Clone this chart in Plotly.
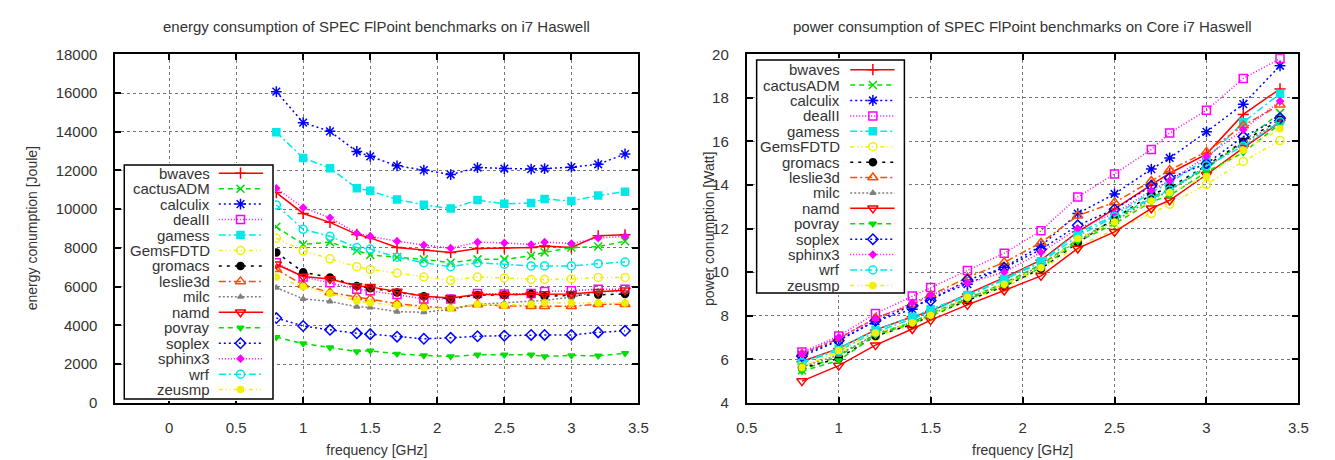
import plotly.graph_objects as go

W, H = 1335, 460

freq = [0.8, 1.0, 1.2, 1.4, 1.5, 1.7, 1.9, 2.1, 2.3, 2.5, 2.7, 2.8, 3.0, 3.2, 3.4]

series_names = ["bwaves", "cactusADM", "calculix", "dealII", "gamess", "GemsFDTD",
                "gromacs", "leslie3d", "milc", "namd", "povray", "soplex",
                "sphinx3", "wrf", "zeusmp"]

# ---- energy consumption [Joule] ----
e_bwaves    = [10860, 9780, 9320, 8700, 8520, 8020, 7900, 7770, 7970, 8000, 8020, 8100, 8020, 8630, 8680]
e_cactusADM = [9090, 8180, 8300, 7850, 7640, 7520, 7410, 7240, 7410, 7410, 7600, 7770, 8020, 8070, 8350]
e_calculix  = [16070, 14470, 14020, 12980, 12730, 12240, 12020, 11790, 12150, 12100, 12070, 12100, 12170, 12320, 12850]
e_dealII    = [7230, 6500, 6200, 5870, 5790, 5590, 5370, 5370, 5650, 5620, 5650, 5750, 5790, 5870, 5870]
e_gamess    = [13970, 12650, 12120, 11080, 10950, 10500, 10230, 10030, 10470, 10280, 10320, 10530, 10420, 10710, 10900]
e_GemsFDTD  = [8500, 7850, 7440, 7030, 6890, 6700, 6500, 6330, 6500, 6450, 6370, 6370, 6400, 6480, 6480]
e_gromacs   = [7770, 6750, 6480, 6040, 5920, 5700, 5510, 5370, 5570, 5570, 5620, 5510, 5540, 5590, 5620]
e_leslie3d  = [6900, 6090, 5700, 5460, 5370, 5120, 4990, 4880, 5080, 5010, 4990, 4990, 4990, 5090, 5090]
e_milc      = [5950, 5370, 5240, 4960, 4930, 4710, 4680, 4830, 5090, 5160, 5260, 5290, 5460, 5750, 5750]
e_namd      = [7160, 6530, 6400, 6040, 5990, 5750, 5510, 5420, 5590, 5590, 5590, 5620, 5620, 5740, 5820]
e_povray    = [3390, 3060, 2860, 2650, 2690, 2530, 2450, 2400, 2480, 2480, 2480, 2400, 2450, 2430, 2560]
e_soplex    = [4380, 3970, 3770, 3590, 3550, 3420, 3310, 3360, 3440, 3470, 3510, 3510, 3510, 3640, 3720]
e_sphinx3   = [11080, 10080, 9560, 8760, 8600, 8350, 8150, 7990, 8300, 8260, 8180, 8300, 8230, 8510, 8600]
e_wrf       = [10220, 8960, 8600, 8020, 7940, 7520, 7240, 7030, 7240, 7160, 7070, 7070, 7070, 7190, 7270]
e_zeusmp    = [6500, 5990, 5650, 5260, 5170, 5040, 4910, 4880, 5090, 5040, 5090, 5160, 5160, 5160, 5160]

# ---- power consumption [Watt] ----
p_bwaves    = [5.90, 6.50, 7.35, 7.95, 8.20, 9.00, 9.75, 10.55, 11.85, 12.90, 14.00, 14.54, 15.42, 17.24, 18.41]
p_cactusADM = [5.50, 6.15, 7.15, 7.70, 8.10, 8.80, 9.50, 10.35, 11.50, 12.40, 13.45, 13.80, 14.76, 16.00, 17.31]
p_calculix  = [6.20, 6.89, 7.75, 8.30, 8.83, 9.45, 10.23, 11.20, 12.69, 13.59, 14.73, 15.24, 16.44, 17.71, 19.47]
p_dealII    = [6.33, 7.07, 8.10, 8.90, 9.30, 10.08, 10.87, 11.90, 13.45, 14.51, 15.63, 16.39, 17.43, 18.89, 19.80]
p_gamess    = [5.85, 6.50, 7.35, 7.95, 8.30, 8.95, 9.70, 10.50, 11.80, 12.60, 13.66, 14.10, 15.20, 16.88, 18.19]
p_GemsFDTD  = [5.70, 6.30, 7.05, 7.60, 7.95, 8.70, 9.30, 10.10, 11.20, 11.95, 12.69, 13.12, 14.03, 15.08, 16.04]
p_gromacs   = [5.60, 6.04, 7.07, 7.60, 8.00, 8.70, 9.35, 10.16, 11.35, 12.45, 13.56, 13.88, 14.90, 16.00, 17.00]
p_leslie3d  = [6.25, 6.95, 7.90, 8.50, 8.95, 9.75, 10.45, 11.35, 12.59, 13.20, 14.18, 14.69, 15.52, 16.73, 17.68]
p_milc      = [5.65, 6.20, 7.15, 7.70, 8.05, 8.80, 9.45, 10.30, 11.45, 12.35, 13.33, 13.74, 14.83, 15.93, 16.90]
p_namd      = [5.00, 5.71, 6.65, 7.39, 7.80, 8.50, 9.16, 9.83, 11.09, 11.85, 12.93, 13.30, 14.47, 15.70, 16.88]
p_povray    = [5.45, 5.95, 7.10, 7.65, 8.00, 8.75, 9.40, 10.20, 11.40, 12.22, 13.23, 13.52, 14.60, 15.49, 16.80]
p_soplex    = [6.14, 6.85, 7.77, 8.46, 8.70, 9.64, 10.20, 11.04, 12.15, 12.88, 13.96, 14.32, 14.98, 16.22, 17.07]
p_sphinx3   = [6.25, 7.00, 7.85, 8.60, 8.95, 9.50, 10.00, 10.90, 12.00, 12.70, 13.74, 14.20, 15.31, 16.54, 17.85]
p_wrf       = [5.85, 6.40, 7.25, 7.85, 8.20, 8.90, 9.65, 10.45, 11.65, 12.55, 13.37, 13.77, 14.88, 15.78, 16.90]
p_zeusmp    = [5.62, 6.40, 7.21, 7.68, 8.02, 8.85, 9.45, 10.20, 11.55, 12.30, 13.26, 13.66, 14.39, 15.60, 16.58]

energy = [e_bwaves, e_cactusADM, e_calculix, e_dealII, e_gamess, e_GemsFDTD, e_gromacs,
          e_leslie3d, e_milc, e_namd, e_povray, e_soplex, e_sphinx3, e_wrf, e_zeusmp]
power = [p_bwaves, p_cactusADM, p_calculix, p_dealII, p_gamess, p_GemsFDTD, p_gromacs,
         p_leslie3d, p_milc, p_namd, p_povray, p_soplex, p_sphinx3, p_wrf, p_zeusmp]

# ---- styles (gnuplot postscript-like line types) ----
colors = ["#ff0000", "#00e000", "#0000ff", "#ff00ff", "#00e8e8", "#f0f000", "#000000",
          "#ff4d00", "#808080", "#ff0000", "#00e000", "#0000ff", "#ff00ff", "#00e8e8", "#f0f000"]
dashes = ["solid", "5px,4px", "2px,3px", "1px,2px", "7px,3px,2px,3px", "4px,3px,1px,3px,1px,3px",
          "3px,5px", "7px,3px,2px,3px", "2px,2px",
          "solid", "5px,4px", "2px,3px", "1px,2px", "7px,3px,2px,3px", "4px,3px,1px,3px,1px,3px"]
symbols = ["cross-thin-open", "x-thin-open", "asterisk-open", "square-open", "square",
           "circle-open", "circle", "triangle-up-open", "triangle-up", "triangle-down-open",
           "triangle-down", "diamond-open", "diamond", "circle-open", "circle"]
msizes = [8, 8, 9, 8, 7, 8, 7, 9, 5, 9, 6, 8, 5, 8, 6]

FONT = "Liberation Sans, Arial, sans-serif"
TXT = "#333333"

fig = go.Figure()

def line_style(i):
    return dict(color=colors[i], width=1.5, dash=dashes[i])

def marker_style(i):
    return dict(symbol=symbols[i], size=msizes[i], color=colors[i],
                line=dict(color=colors[i], width=1.5))

for i, name in enumerate(series_names):
    fig.add_trace(go.Scatter(x=freq, y=energy[i], mode="lines+markers", name=name,
                             line=line_style(i), marker=marker_style(i),
                             xaxis="x", yaxis="y", showlegend=False, hoverinfo="skip"))
for i, name in enumerate(series_names):
    fig.add_trace(go.Scatter(x=freq, y=power[i], mode="lines+markers", name=name,
                             line=line_style(i), marker=marker_style(i),
                             xaxis="x2", yaxis="y2", showlegend=False, hoverinfo="skip"))

def dom_x(a, b):
    return [a / W, b / W]

def dom_y(top, bottom):
    return [(H - bottom) / H, (H - top) / H]

# plot areas in pixels
L = dict(x0=107, x1=638, y0=47, y1=409)
R = dict(x0=748, x1=1308, y0=47, y1=409)

axis_common = dict(showline=True, linecolor="black", linewidth=2, mirror="ticks",
                   ticks="inside", ticklen=6, tickwidth=1.5, tickcolor="black",
                   showgrid=True, gridcolor="#777777", gridwidth=1, griddash="dot",
                   zeroline=False, tickfont=dict(family=FONT, size=15, color=TXT),
                   title_font=dict(family=FONT, size=14, color=TXT))

fig.update_layout(
    xaxis=dict(domain=dom_x(L["x0"], L["x1"]), anchor="y", range=[-0.4, 3.5],
               tick0=0, dtick=0.5, title_text="frequency [GHz]", title_standoff=10,
               ticklabelstandoff=10, **axis_common),
    yaxis=dict(domain=dom_y(L["y0"], L["y1"]), anchor="x", range=[0, 18000],
               tick0=0, dtick=2000, tickformat="d", ticklabelstandoff=13, **axis_common),
    xaxis2=dict(domain=dom_x(R["x0"], R["x1"]), anchor="y2", range=[0.5, 3.5],
                tick0=0.5, dtick=0.5, title_text="frequency [GHz]", title_standoff=10,
                ticklabelstandoff=10, **axis_common),
    yaxis2=dict(domain=dom_y(R["y0"], R["y1"]), anchor="x2", range=[4, 20],
                tick0=4, dtick=2, ticklabelstandoff=13, **axis_common),
)

# y axis titles (placed like gnuplot's ylabel)
yc = (H - (L["y0"] + L["y1"]) / 2) / H
fig.add_annotation(x=22 / W, y=yc, xref="paper", yref="paper", text="energy conumption [Joule]",
                   textangle=-90, showarrow=False, xanchor="center", yanchor="middle",
                   font=dict(family=FONT, size=14, color=TXT))
fig.add_annotation(x=709 / W, y=yc, xref="paper", yref="paper", text="power conumption [Watt]",
                   textangle=-90, showarrow=False, xanchor="center", yanchor="middle",
                   font=dict(family=FONT, size=14, color=TXT))

# ---- gnuplot-style key boxes (text right, sample on the right) ----
def add_key(xa, ya, box, text_end, lx0, lx1, mx, row0, drow, xref, yref):
    bw = box["x1"] - box["x0"]
    bh = box["y1"] - box["y0"]
    pad = 2
    fig.update_layout(**{
        xa: dict(domain=dom_x(box["x0"] - pad, box["x1"] + pad), range=[-pad, bw + pad],
                 visible=False, fixedrange=True, anchor=yref),
        ya: dict(domain=dom_y(box["y0"] - pad, box["y1"] + pad), range=[bh + pad, -pad],
                 visible=False, fixedrange=True, anchor=xref),
    })
    fig.add_shape(type="rect", xref=xref, yref=yref, x0=0, x1=bw, y0=0, y1=bh,
                  fillcolor="white", line=dict(color="black", width=1.5), layer="below")
    for i, name in enumerate(series_names):
        yy = row0 + i * drow
        fig.add_trace(go.Scatter(x=[lx0, lx1], y=[yy, yy], mode="lines", line=line_style(i),
                                 xaxis=xref, yaxis=yref, showlegend=False, hoverinfo="skip"))
        fig.add_trace(go.Scatter(x=[mx], y=[yy], mode="markers", marker=marker_style(i),
                                 xaxis=xref, yaxis=yref, showlegend=False, hoverinfo="skip"))
        fig.add_annotation(x=text_end, y=yy, xref=xref, yref=yref, text=name,
                           xanchor="right", yanchor="middle", showarrow=False,
                           font=dict(family=FONT, size=15, color=TXT))

add_key("xaxis3", "yaxis3", dict(x0=116, x1=267, y0=162, y1=405),
        text_end=89, lx0=96, lx1=141, mx=118, row0=8.5, drow=16.05, xref="x3", yref="y3")
add_key("xaxis4", "yaxis4", dict(x0=758, x1=908, y0=53, y1=295),
        text_end=87, lx0=95, lx1=140, mx=118, row0=10, drow=16.0, xref="x4", yref="y4")

# ---- titles ----
fig.add_annotation(x=(L["x0"] + L["x1"]) / 2 / W, y=(H - 18) / H, xref="paper", yref="paper",
                   text="energy consumption of SPEC FlPoint benchmarks on i7 Haswell",
                   showarrow=False, xanchor="center", yanchor="middle",
                   font=dict(family=FONT, size=15, color=TXT))
fig.add_annotation(x=(R["x0"] + R["x1"]) / 2 / W, y=(H - 18) / H, xref="paper", yref="paper",
                   text="power consumption of SPEC FlPoint benchmarks on Core i7 Haswell",
                   showarrow=False, xanchor="center", yanchor="middle",
                   font=dict(family=FONT, size=15, color=TXT))

fig.update_layout(width=W, height=H, autosize=False,
                  margin=dict(l=0, r=0, t=0, b=0),
                  paper_bgcolor="white", plot_bgcolor="white",
                  font=dict(family=FONT, color=TXT), showlegend=False)

fig.write_html("out.html")
